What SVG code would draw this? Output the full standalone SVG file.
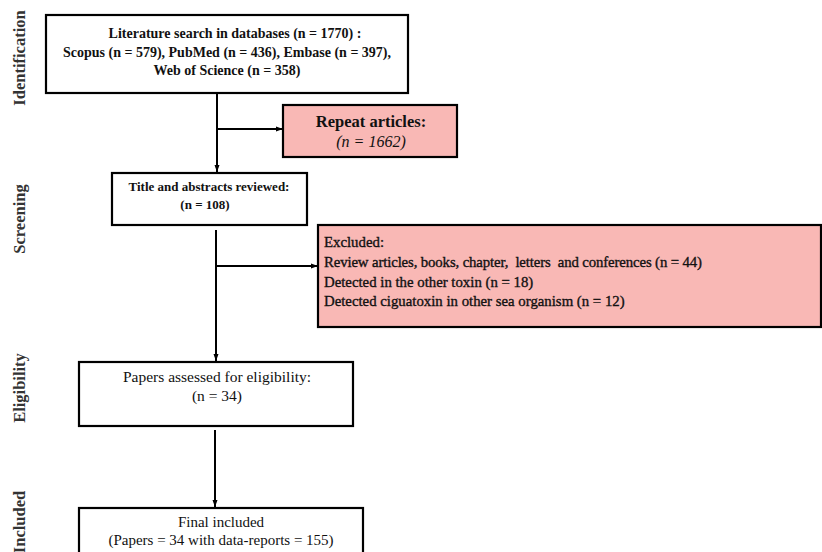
<svg xmlns="http://www.w3.org/2000/svg" width="822" height="552" viewBox="0 0 822 552">
<defs>
<marker id="ah" markerWidth="8" markerHeight="8" refX="7" refY="4" orient="auto" markerUnits="userSpaceOnUse">
<path d="M0,1.5 L7,4 L0,6.5 Z" fill="#000"/>
</marker>
<style>
.box{fill:#fff;stroke:#000;stroke-width:2.2}
.pink{fill:#f9b8b5;stroke:#000;stroke-width:2.2}
.t{font-family:"Liberation Serif","DejaVu Serif",serif;fill:#111}
.b{font-weight:bold}
.sb{stroke:#111;stroke-width:0.35}
.side{font-family:"Liberation Serif","DejaVu Serif",serif;font-weight:bold;font-size:16.5px;fill:#333}
.ln{fill:none;stroke:#000;stroke-width:2}
</style>
</defs>
<rect width="822" height="552" fill="#fff"/>
<g id="labels">
<text class="side" transform="translate(25,58) rotate(-90)" text-anchor="middle">Identification</text>
<text class="side" transform="translate(25,219) rotate(-90)" text-anchor="middle">Screening</text>
<text class="side" transform="translate(25,388) rotate(-90)" text-anchor="middle">Eligibility</text>
<text class="side" transform="translate(25,522) rotate(-90)" text-anchor="middle">Included</text>
</g>
<g id="connectors">
<line class="ln" x1="217" y1="93" x2="217" y2="172" marker-end="url(#ah)"/>
<line class="ln" x1="217" y1="129" x2="283" y2="129" marker-end="url(#ah)"/>
<line class="ln" x1="216" y1="230" x2="216" y2="361" marker-end="url(#ah)"/>
<line class="ln" x1="216" y1="266" x2="318" y2="266" marker-end="url(#ah)"/>
<line class="ln" x1="215" y1="430" x2="215" y2="507" marker-end="url(#ah)"/>
</g>
<g id="search">
<rect class="box" x="46" y="15" width="362" height="78"/>
<text class="t b" font-size="14" text-anchor="middle" x="235" y="38">Literature search in databases (n = 1770) :</text>
<text class="t b" font-size="14" text-anchor="middle" x="227" y="57">Scopus (n = 579), PubMed (n = 436), Embase (n = 397),</text>
<text class="t b" font-size="14" text-anchor="middle" x="227" y="75">Web of Science (n = 358)</text>
</g>
<g id="repeat">
<rect class="pink" x="283" y="105" width="174" height="52"/>
<text class="t b" font-size="16.5" text-anchor="middle" x="371" y="127">Repeat articles:</text>
<text class="t" font-size="16" font-style="italic" text-anchor="middle" x="371" y="147">(n = 1662)</text>
</g>
<g id="title">
<rect class="box" x="112" y="173" width="195" height="52"/>
<text class="t b" font-size="13" text-anchor="middle" x="209" y="191">Title and abstracts reviewed:</text>
<text class="t b" font-size="13" text-anchor="middle" x="205" y="209">(n = 108)</text>
</g>
<g id="excluded">
<rect class="pink" x="318" y="225" width="503" height="102"/>
<text class="t sb" font-size="14.8" x="324" y="247">Excluded:</text>
<text class="t sb" font-size="14.8" x="324" y="267" xml:space="preserve" textLength="378" lengthAdjust="spacing">Review articles, books, chapter,  letters  and conferences (n = 44)</text>
<text class="t sb" font-size="14.8" x="324" y="287">Detected in the other toxin (n = 18)</text>
<text class="t sb" font-size="14.8" x="324" y="306">Detected ciguatoxin in other sea organism (n = 12)</text>
</g>
<g id="papers">
<rect class="box" x="79" y="362" width="274" height="64"/>
<text class="t" font-size="15.5" text-anchor="middle" x="217" y="382">Papers assessed for eligibility:</text>
<text class="t" font-size="15.5" text-anchor="middle" x="217" y="401">(n = 34)</text>
</g>
<g id="final">
<rect class="box" x="79" y="508" width="284" height="60"/>
<text class="t" font-size="15" text-anchor="middle" x="221" y="527">Final included</text>
<text class="t" font-size="15" text-anchor="middle" x="221" y="545">(Papers = 34 with data-reports = 155)</text>
</g>
</svg>
